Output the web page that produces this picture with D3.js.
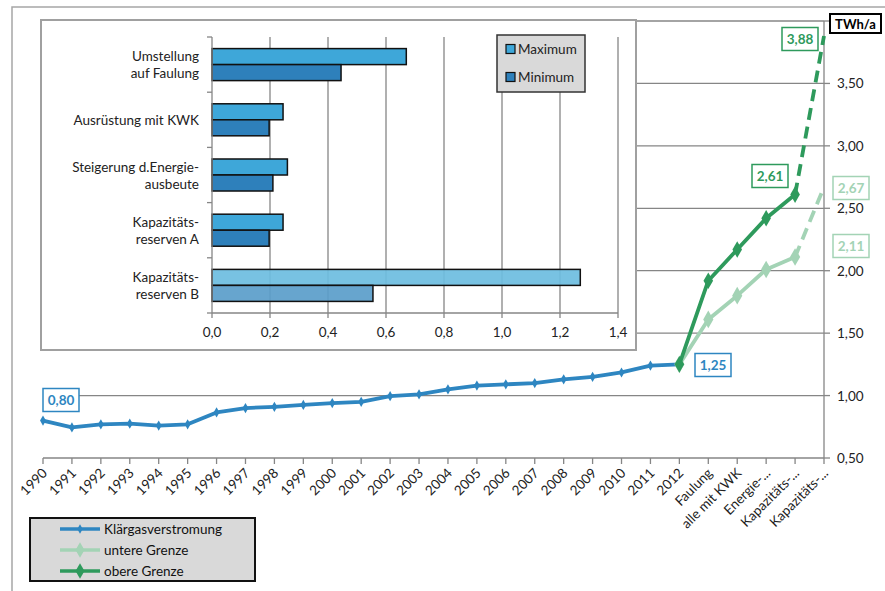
<!DOCTYPE html>
<html>
<head>
<meta charset="utf-8">
<script src="https://cdn.jsdelivr.net/npm/d3@7"></script>
<style>
  body { margin: 0; background: #fff; }
  svg { font-family: Lato, "Open Sans", sans-serif; }
</style>
</head>
<body>
<div id="chart"></div>
<script>
// main chart data
var categories = ["1990", "1991", "1992", "1993", "1994", "1995", "1996", "1997", "1998", "1999",
    "2000", "2001", "2002", "2003", "2004", "2005", "2006", "2007", "2008", "2009", "2010", "2011", "2012",
    "Faulung", "alle mit KWK", "Energie-...", "Kapazitäts-...", "Kapazitäts-..."];

var klaergas = [0.80, 0.745, 0.77, 0.775, 0.76, 0.77, 0.865, 0.90, 0.91, 0.925, 0.94, 0.95, 0.995,
    1.01, 1.05, 1.08, 1.09, 1.10, 1.13, 1.15, 1.185, 1.24, 1.25];

// scenario lines start at 2012 (index 22)
var untereGrenze = [1.25, 1.61, 1.80, 2.01, 2.11, 2.67];
var obereGrenze = [1.25, 1.92, 2.17, 2.42, 2.61, 3.88];

var yTicks = [0.5, 1.0, 1.5, 2.0, 2.5, 3.0, 3.5];

// inset bar chart data
var measures = ["Umstellung\nauf Faulung", "Ausrüstung mit KWK", "Steigerung d.Energie-\nausbeute",
    "Kapazitäts-\nreserven A", "Kapazitäts-\nreserven B"];
var maxValues = [0.67, 0.245, 0.26, 0.245, 1.27];
var minValues = [0.445, 0.197, 0.21, 0.197, 0.555];
var insetTicks = [0, 0.2, 0.4, 0.6, 0.8, 1.0, 1.2, 1.4];

var W = 885, H = 591;
var blue = "#2e86c1", green = "#2e9a5c", lightGreen = "#a3d3b5";

var svg = d3.select("#chart").append("svg").attr("width", W).attr("height", H);

// outer frame
svg.append("path").attr("d", "M12," + H + "V7H" + W)
    .attr("fill", "none").attr("stroke", "#a6a6a6").attr("stroke-width", 1.5);

var fmt = function (v) { return d3.format(".2f")(v).replace(".", ","); };

var x = d3.scalePoint().domain(d3.range(categories.length)).range([43, 824]);
var y = d3.scaleLinear().domain([0.5, 4.0]).range([458, 21]);

// gridlines
svg.append("g").selectAll("line").data(yTicks.concat([4.0])).enter().append("line")
    .attr("x1", 43).attr("x2", 824)
    .attr("y1", function (d) { return y(d); }).attr("y2", function (d) { return y(d); })
    .attr("stroke", "#868686").attr("stroke-width", 1.3);

// right axis
svg.append("line").attr("x1", 824).attr("x2", 824).attr("y1", y(4.0)).attr("y2", y(0.5))
    .attr("stroke", "#868686").attr("stroke-width", 1.3);
svg.append("g").selectAll("line").data(yTicks.concat([4.0])).enter().append("line")
    .attr("x1", 824).attr("x2", 830)
    .attr("y1", function (d) { return y(d); }).attr("y2", function (d) { return y(d); })
    .attr("stroke", "#868686").attr("stroke-width", 1.3);
svg.append("g").selectAll("text").data(yTicks).enter().append("text")
    .attr("x", 837).attr("y", function (d) { return y(d) + 5; })
    .attr("font-size", 13.5).attr("fill", "#222")
    .text(fmt);

// x ticks and labels
svg.append("g").selectAll("line").data(d3.range(categories.length)).enter().append("line")
    .attr("x1", function (d) { return x(d); }).attr("x2", function (d) { return x(d); })
    .attr("y1", 458).attr("y2", 464)
    .attr("stroke", "#868686").attr("stroke-width", 1.3);
svg.append("g").selectAll("text").data(categories).enter().append("text")
    .attr("transform", function (d, i) { return "translate(" + (x(i) + 5) + ",474) rotate(-45)"; })
    .attr("text-anchor", "end").attr("font-size", 13.5).attr("fill", "#222")
    .text(function (d) { return d; });

// lines
var line = d3.line().x(function (d) { return x(d.i); }).y(function (d) { return y(d.v); });
var diamond = d3.symbol().type(d3.symbolDiamond);

function drawSeries(values, offset, color, width, markerSize, dashedLast) {
    var pts = values.map(function (v, k) { return { i: k + offset, v: v }; });
    var solid = dashedLast ? pts.slice(0, pts.length - 1) : pts;
    svg.append("path").datum(solid).attr("d", line)
        .attr("fill", "none").attr("stroke", color).attr("stroke-width", width)
        .attr("stroke-linejoin", "round");
    if (dashedLast) {
        svg.append("path").datum(pts.slice(pts.length - 2)).attr("d", line)
            .attr("fill", "none").attr("stroke", color).attr("stroke-width", width)
            .attr("stroke-dasharray", "12,7");
    }
    svg.append("g").selectAll("path").data(solid).enter().append("path")
        .attr("transform", function (d) { return "translate(" + x(d.i) + "," + y(d.v) + ")"; })
        .attr("d", diamond.size(markerSize)).attr("fill", color);
}

drawSeries(klaergas, 0, blue, 3.8, 30, false);
drawSeries(untereGrenze, 22, lightGreen, 3.8, 90, true);
drawSeries(obereGrenze, 22, green, 3.8, 80, true);

// data labels
function dataLabel(text, cx, cy, color) {
    var g = svg.append("g");
    g.append("rect").attr("x", cx - 18).attr("y", cy - 11.5).attr("width", 36).attr("height", 23)
        .attr("fill", "#fff").attr("stroke", color).attr("stroke-width", 1.5);
    g.append("text").attr("x", cx).attr("y", cy + 5).attr("text-anchor", "middle")
        .attr("font-size", 13.5).attr("font-weight", "bold").attr("fill", color).text(text);
}
dataLabel(fmt(klaergas[0]), 61, 400, blue);
dataLabel(fmt(klaergas[22]), 713, 365, blue);
dataLabel(fmt(obereGrenze[4]), 770, 176, green);
dataLabel(fmt(obereGrenze[5]), 800, 39, green);
dataLabel(fmt(untereGrenze[5]), 851, 188, lightGreen);
dataLabel(fmt(untereGrenze[4]), 851, 246, lightGreen);

// unit box
svg.append("rect").attr("x", 830).attr("y", 14).attr("width", 51).attr("height", 19)
    .attr("fill", "#fff").attr("stroke", "#000").attr("stroke-width", 2);
svg.append("text").attr("x", 855.5).attr("y", 28.5).attr("text-anchor", "middle")
    .attr("font-size", 13).attr("font-weight", "bold").text("TWh/a");

// main legend
var legend = svg.append("g");
legend.append("rect").attr("x", 30).attr("y", 518).attr("width", 225).attr("height", 63)
    .attr("fill", "#d9d9d9").attr("stroke", "#111").attr("stroke-width", 2);
var legendItems = [
    { name: "Klärgasverstromung", color: blue, size: 25 },
    { name: "untere Grenze", color: lightGreen, size: 70 },
    { name: "obere Grenze", color: green, size: 70 }
];
legendItems.forEach(function (d, k) {
    var ly = 529 + k * 21;
    legend.append("line").attr("x1", 60).attr("x2", 100).attr("y1", ly).attr("y2", ly)
        .attr("stroke", d.color).attr("stroke-width", 3.5);
    legend.append("path").attr("transform", "translate(80," + ly + ")")
        .attr("d", diamond.size(d.size)).attr("fill", d.color);
    legend.append("text").attr("x", 104).attr("y", ly + 5).attr("font-size", 13.5)
        .attr("fill", "#111").text(d.name);
});

// ---- inset bar chart ----
var inset = svg.append("g");
inset.append("rect").attr("x", 41).attr("y", 20).attr("width", 595).attr("height", 330)
    .attr("fill", "#fff").attr("stroke", "#a0a0a0").attr("stroke-width", 2);

var ix = d3.scaleLinear().domain([0, 1.4]).range([212, 618]);
var iy = d3.scaleBand().domain(measures).range([37, 313]).paddingInner(0.42).paddingOuter(0.21);
var step = iy.step();

inset.append("g").selectAll("line").data(insetTicks.slice(1)).enter().append("line")
    .attr("x1", function (d) { return ix(d); }).attr("x2", function (d) { return ix(d); })
    .attr("y1", 37).attr("y2", 313)
    .attr("stroke", "#868686").attr("stroke-width", 1.3);

// bars
var barH = iy.bandwidth() / 2;
var maxColors = ["#3ea7d9", "#3ea7d9", "#3ea7d9", "#3ea7d9", "#6cbde0"];
var minColors = ["#2e80bb", "#2e80bb", "#2e80bb", "#2e80bb", "#5a9dca"];
inset.append("g").selectAll("rect").data(measures).enter().append("rect")
    .attr("x", ix(0)).attr("y", function (d) { return iy(d); })
    .attr("width", function (d, i) { return ix(maxValues[i]) - ix(0); })
    .attr("height", barH)
    .attr("fill", function (d, i) { return maxColors[i]; })
    .attr("fill-opacity", function (d, i) { return i === 4 ? 0.92 : 1; })
    .attr("stroke", "#111").attr("stroke-width", 1.5);
inset.append("g").selectAll("rect").data(measures).enter().append("rect")
    .attr("x", ix(0)).attr("y", function (d) { return iy(d) + barH; })
    .attr("width", function (d, i) { return ix(minValues[i]) - ix(0); })
    .attr("height", barH)
    .attr("fill", function (d, i) { return minColors[i]; })
    .attr("fill-opacity", function (d, i) { return i === 4 ? 0.92 : 1; })
    .attr("stroke", "#111").attr("stroke-width", 1.5);

// inset axes
inset.append("line").attr("x1", ix(0)).attr("x2", ix(0)).attr("y1", 37).attr("y2", 313)
    .attr("stroke", "#868686").attr("stroke-width", 1.3);
inset.append("line").attr("x1", ix(0)).attr("x2", ix(1.4)).attr("y1", 313).attr("y2", 313)
    .attr("stroke", "#868686").attr("stroke-width", 1.3);
inset.append("g").selectAll("line").data(d3.range(measures.length + 1)).enter().append("line")
    .attr("x1", ix(0) - 5).attr("x2", ix(0))
    .attr("y1", function (d) { return 37 + d * step; }).attr("y2", function (d) { return 37 + d * step; })
    .attr("stroke", "#868686").attr("stroke-width", 1.3);
inset.append("g").selectAll("line").data(insetTicks).enter().append("line")
    .attr("x1", function (d) { return ix(d); }).attr("x2", function (d) { return ix(d); })
    .attr("y1", 313).attr("y2", 318)
    .attr("stroke", "#868686").attr("stroke-width", 1.3);
inset.append("g").selectAll("text").data(insetTicks).enter().append("text")
    .attr("x", function (d) { return ix(d); }).attr("y", 337)
    .attr("text-anchor", "middle").attr("font-size", 13.5).attr("fill", "#222")
    .text(function (d) { return d3.format(".1f")(d).replace(".", ","); });

// category labels (two-line)
measures.forEach(function (m) {
    var lines = m.split("\n");
    var cy = iy(m) + iy.bandwidth() / 2;
    var t = inset.append("text").attr("text-anchor", "end").attr("font-size", 13.5).attr("fill", "#222");
    lines.forEach(function (l, k) {
        t.append("tspan").attr("x", 199)
            .attr("y", cy + 5 + (k - (lines.length - 1) / 2) * 17)
            .text(l);
    });
});

// inset legend
inset.append("rect").attr("x", 497).attr("y", 35).attr("width", 88).attr("height", 57)
    .attr("fill", "#d9d9d9").attr("stroke", "#333").attr("stroke-width", 1.5);
[["Maximum", "#3ea7d9"], ["Minimum", "#2e80bb"]].forEach(function (d, k) {
    var ly = 49 + k * 28;
    inset.append("rect").attr("x", 506).attr("y", ly - 4.5).attr("width", 9).attr("height", 9)
        .attr("fill", d[1]).attr("stroke", "#111").attr("stroke-width", 1.2);
    inset.append("text").attr("x", 518).attr("y", ly + 5).attr("font-size", 13.5)
        .attr("fill", "#222").text(d[0]);
});
</script>
</body>
</html>
